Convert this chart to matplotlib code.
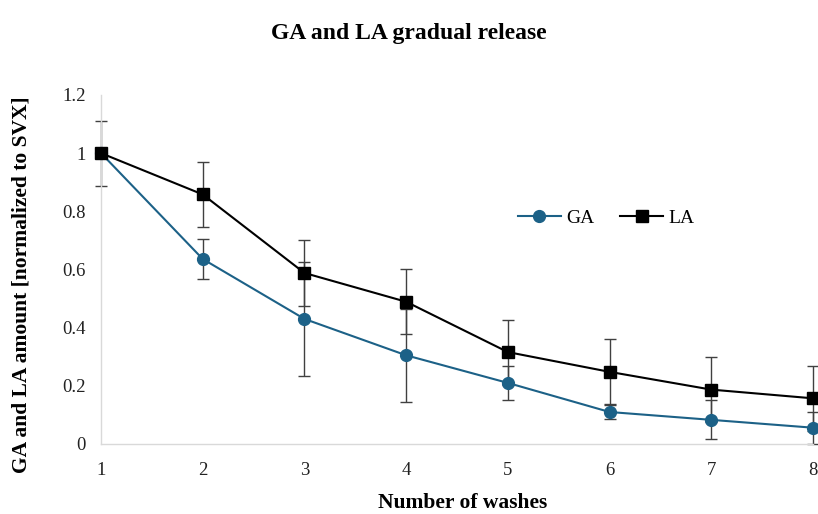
import numpy as np
import matplotlib
matplotlib.use('Agg')
import matplotlib.pyplot as plt

plt.rcParams['font.family'] = ['Liberation Serif', 'DejaVu Serif']

washes = [1, 2, 3, 4, 5, 6, 7, 8]
ga = [1.0, 0.636, 0.43, 0.305, 0.21, 0.11, 0.083, 0.056]
ga_err = [0.0, 0.068, 0.195, 0.16, 0.058, 0.025, 0.067, 0.055]
la = [1.0, 0.858, 0.588, 0.489, 0.316, 0.248, 0.187, 0.157]
la_err = [0.112, 0.112, 0.112, 0.112, 0.112, 0.112, 0.112, 0.112]

ga_color = '#1c6187'
err_color = '#404040'

fig = plt.figure(figsize=(8.18, 5.14), dpi=100)
ax = fig.add_axes([0.1235, 0.1362, 0.8704, 0.679])

# error bars first, drawn under the lines
ax.errorbar(washes, ga, yerr=ga_err, fmt='none', ecolor=err_color,
            elinewidth=1, capsize=4, capthick=1, clip_on=False, zorder=2)
ax.errorbar(washes, la, yerr=la_err, fmt='none', ecolor=err_color,
            elinewidth=1, capsize=4, capthick=1, clip_on=False, zorder=2)

ax.plot(washes, ga, color=ga_color, marker='o', markersize=8.5, linewidth=1.5,
        label='GA', clip_on=False, zorder=3)
ax.plot(washes, la, color='black', marker='s', markersize=8, linewidth=1.5,
        label='LA', clip_on=False, zorder=4)

ax.set_xlim(1, 8)
ax.set_ylim(0, 1.2)
ax.set_xticks(washes)
ax.set_yticks([0, 0.2, 0.4, 0.6, 0.8, 1.0, 1.2])
ax.set_yticklabels(['0', '0.2', '0.4', '0.6', '0.8', '1', '1.2'])
ax.tick_params(axis='both', length=0, labelsize=13.5, colors='#222222')
ax.tick_params(axis='x', pad=13)
ax.tick_params(axis='y', pad=11)

for side in ['top', 'right']:
    ax.spines[side].set_visible(False)
for side in ['left', 'bottom']:
    ax.spines[side].set_color('#d9d9d9')
    ax.spines[side].set_linewidth(1)

ax.set_xlabel('Number of washes', fontsize=15.5, fontweight='bold', va='center')
ax.set_ylabel('GA and LA amount [normalized to SVX]', fontsize=15.5,
              fontweight='bold', va='center')
ax.xaxis.set_label_coords(0.508, -0.169)
ax.yaxis.set_label_coords(-0.111, 0.456)
fig.suptitle('GA and LA gradual release', fontsize=17, fontweight='bold',
             x=0.5, y=0.955)

ax.legend(loc='center', bbox_to_anchor=(0.71, 0.648), ncol=2, frameon=False,
          fontsize=14, handlelength=2.2, columnspacing=1.3, handletextpad=0.3)

fig.savefig('out.png', dpi=100)
